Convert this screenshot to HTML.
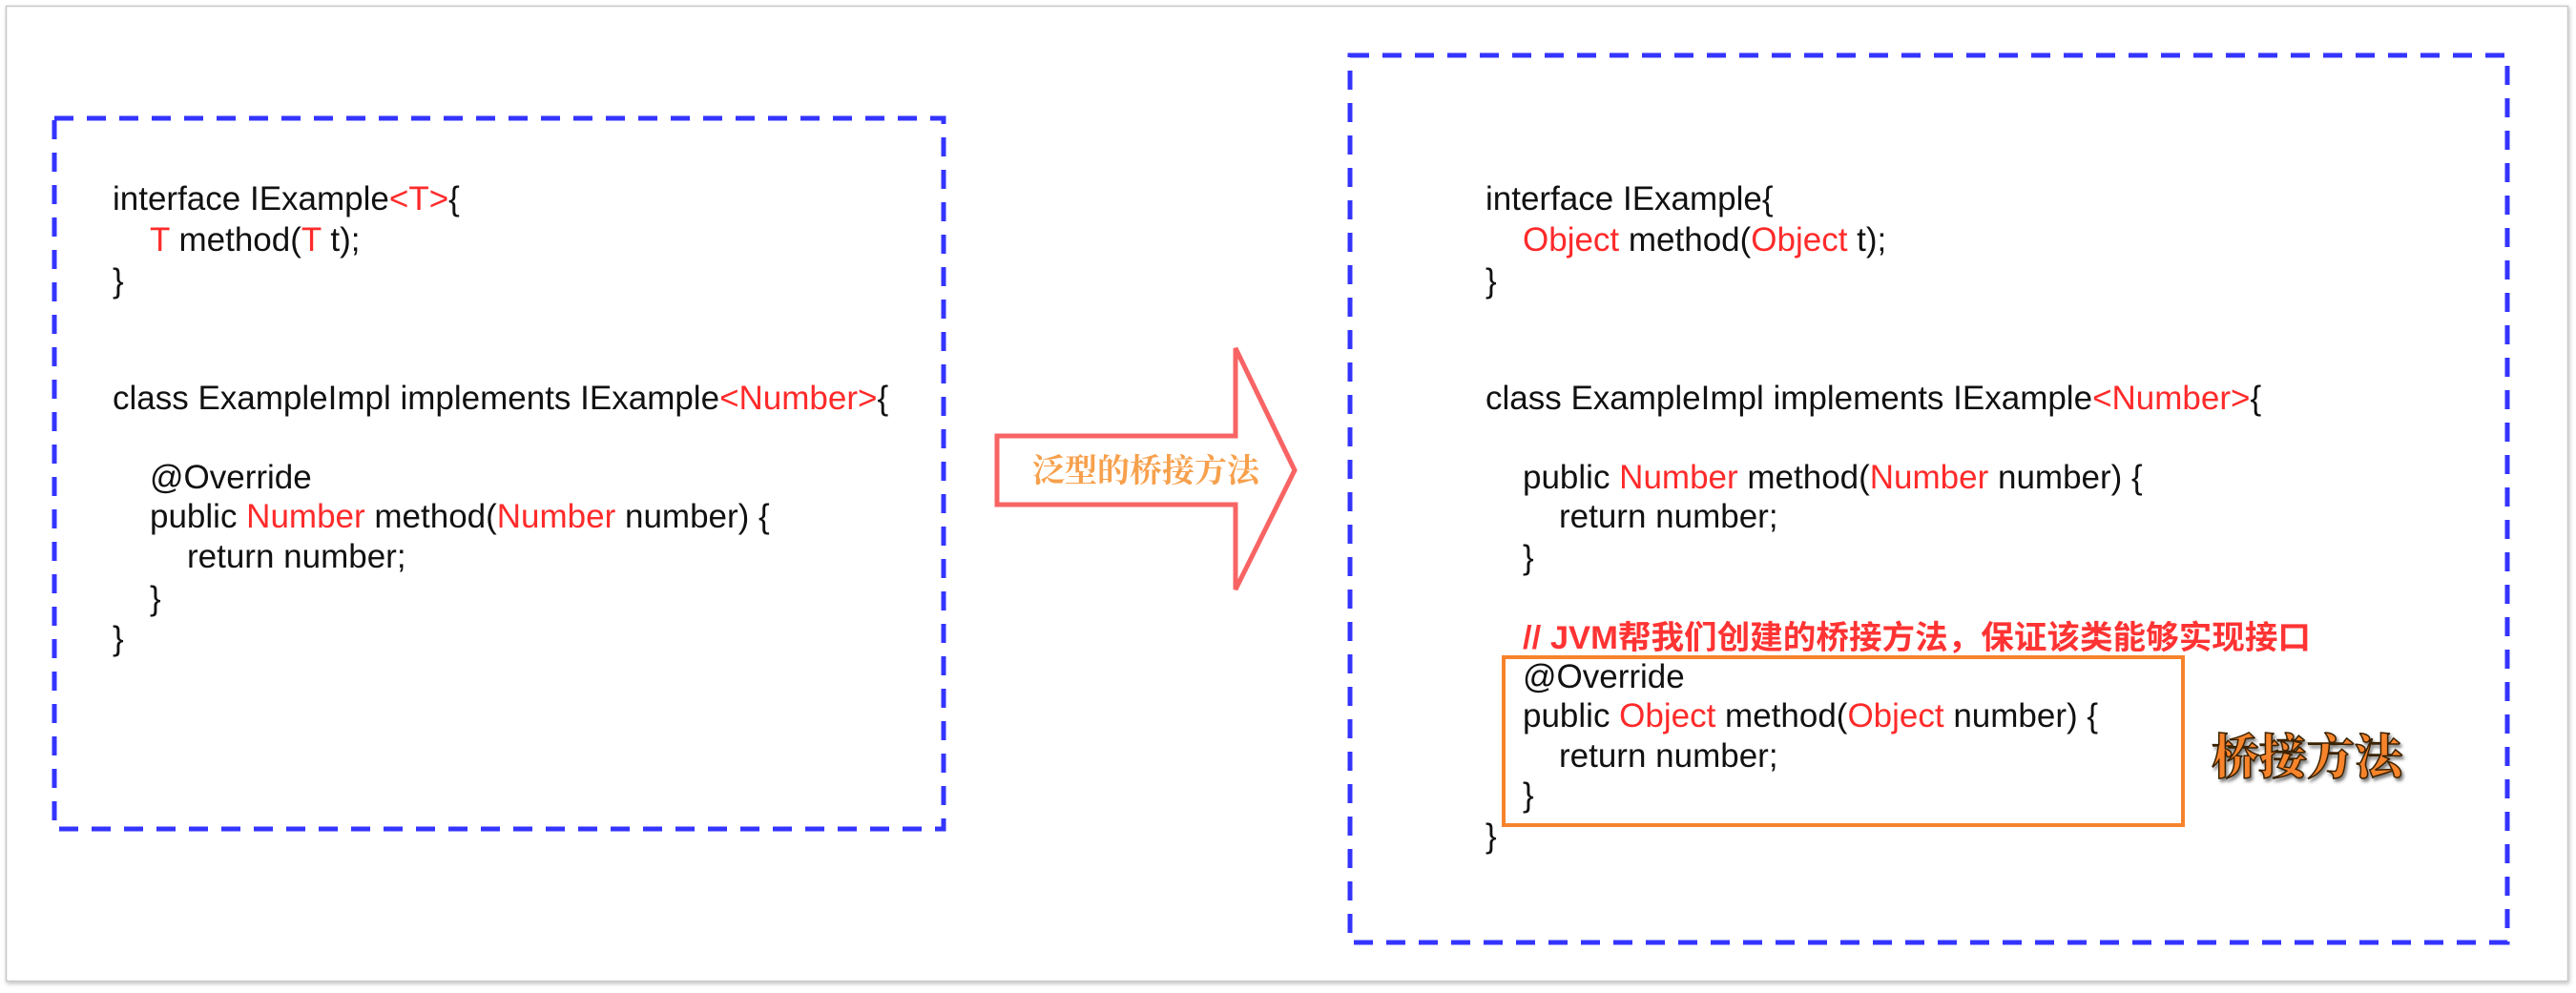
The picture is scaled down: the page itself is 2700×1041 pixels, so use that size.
<!DOCTYPE html>
<html><head><meta charset="utf-8"><style>
html,body{margin:0;padding:0;background:#fff;}
svg{display:block}
text{font-family:"Liberation Sans","Noto Sans CJK SC",sans-serif;font-size:35px;fill:#111;}
.r{fill:#ff2a2a}
</style></head><body>
<svg width="2700" height="1041" viewBox="0 0 2700 1041" xmlns="http://www.w3.org/2000/svg">
<defs><filter id="sh" x="-5%" y="-5%" width="110%" height="110%"><feDropShadow dx="1" dy="2" stdDeviation="2" flood-color="#000" flood-opacity="0.25"/></filter>
<filter id="ts"><feDropShadow dx="2" dy="3" stdDeviation="1.5" flood-color="#000" flood-opacity="0.5"/></filter></defs>
<rect x="6.5" y="6.5" width="2685" height="1022" fill="#fff" stroke="#c8c8c8" stroke-width="1.5" filter="url(#sh)"/>
<!-- left box -->
<rect x="57" y="124" width="932" height="745" fill="none" stroke="#3434ff" stroke-width="5" stroke-dasharray="20 14"/>
<g>
<text x="118" y="220">interface IExample<tspan class="r">&lt;T&gt;</tspan>{</text>
<text x="157" y="263"><tspan class="r">T</tspan> method(<tspan class="r">T</tspan> t);</text>
<text x="118" y="306">}</text>
<text x="118" y="429">class ExampleImpl implements IExample<tspan class="r">&lt;Number&gt;</tspan>{</text>
<text x="157" y="512">@Override</text>
<text x="157" y="553">public <tspan class="r">Number</tspan> method(<tspan class="r">Number</tspan> number) {</text>
<text x="196" y="595">return number;</text>
<text x="157" y="639">}</text>
<text x="118" y="681">}</text>
</g>
<!-- arrow -->
<polygon points="1045,457 1295,457 1295,365 1357,493 1295,618 1295,529 1045,529" fill="#fff" stroke="#f86464" stroke-width="5" stroke-linejoin="miter"/>
<text x="1201" y="505" text-anchor="middle" style="font-family:'Noto Serif CJK SC',serif;font-size:34px;font-weight:bold;fill:#f7a04c">泛型的桥接方法</text>
<!-- right box -->
<rect x="1415" y="58" width="1213" height="930" fill="none" stroke="#3434ff" stroke-width="5" stroke-dasharray="20 14"/>
<text x="1557" y="220">interface IExample{</text>
<text x="1596" y="263"><tspan class="r">Object</tspan> method(<tspan class="r">Object</tspan> t);</text>
<text x="1557" y="306">}</text>
<text x="1557" y="429">class ExampleImpl implements IExample<tspan class="r">&lt;Number&gt;</tspan>{</text>
<text x="1596" y="512">public <tspan class="r">Number</tspan> method(<tspan class="r">Number</tspan> number) {</text>
<text x="1634" y="553">return number;</text>
<text x="1596" y="596">}</text>
<text x="1596" y="680" style="font-weight:bold;fill:#ff3333;font-size:34px" textLength="826" lengthAdjust="spacingAndGlyphs">// JVM帮我们创建的桥接方法，保证该类能够实现接口</text>
<rect x="1576" y="689" width="712" height="176" fill="none" stroke="#f7832c" stroke-width="4"/>
<text x="1596" y="721">@Override</text>
<text x="1596" y="762">public <tspan class="r">Object</tspan> method(<tspan class="r">Object</tspan> number) {</text>
<text x="1634" y="804">return number;</text>
<text x="1596" y="845">}</text>
<text x="1557" y="888">}</text>
<text x="2418" y="811" text-anchor="middle" filter="url(#ts)" style="font-family:'Noto Serif CJK SC',serif;font-size:50px;font-weight:900;fill:#f7832c;stroke:#3a2000;stroke-width:1.5">桥接方法</text>
</svg>
</body></html>
